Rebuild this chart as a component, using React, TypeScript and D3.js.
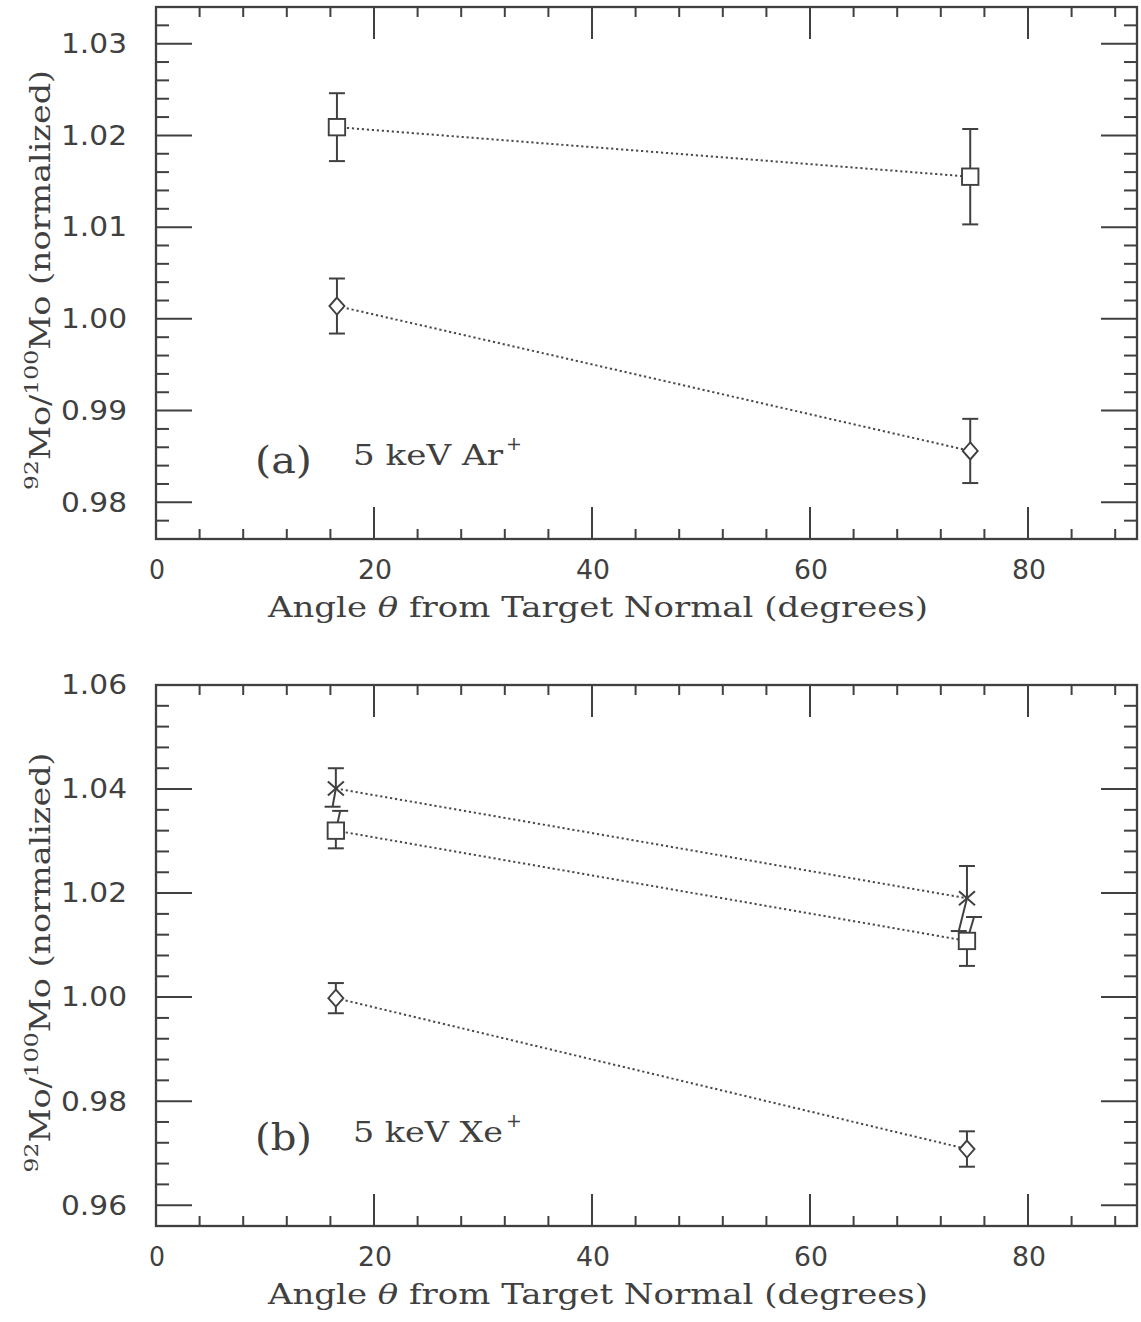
import * as d3 from 'd3'

// ---- data ----
const xTickValues = [0, 20, 40, 60, 80]

// panel (a): 5 keV Ar+
const anglesA = [16.6, 74.7]
const squareA = [1.0209, 1.0155]
const squareAErr = [0.0037, 0.0052]
const diamondA = [1.0014, 0.9856]
const diamondAErr = [0.003, 0.0035]
const yTicksA = [0.98, 0.99, 1.0, 1.01, 1.02, 1.03]

// panel (b): 5 keV Xe+
const anglesB = [16.5, 74.4]
const crossB = [1.0401, 1.019]
const crossBErrHi = [0.0039, 0.0062]
const crossBErrLo = [0.0035, 0.0063]
const crossBLoShift = [-0.3, -0.75] // lower bars were drawn skewed
const squareB = [1.032, 1.0108]
const squareBErrHi = [0.0038, 0.0046]
const squareBErrLo = [0.0034, 0.0048]
const squareBHiShift = [0.4, 0.65]
const diamondB = [0.9998, 0.9708]
const diamondBErr = [0.0029, 0.0034]
const yTicksB = [0.96, 0.98, 1.0, 1.02, 1.04, 1.06]

const W = 1141, H = 1322
const INK = '#404040'
const SANS = '"DejaVu Sans", sans-serif'
const SERIF = '"DejaVu Serif", serif'

type Series = {
  shape: 'square' | 'diamond' | 'cross'
  x: number[]
  y: number[]
  hi: number[]
  lo: number[]
  hiShift?: number[]
  loShift?: number[]
}

const seriesA: Series[] = [
  { shape: 'square', x: anglesA, y: squareA, hi: squareAErr, lo: squareAErr },
  { shape: 'diamond', x: anglesA, y: diamondA, hi: diamondAErr, lo: diamondAErr },
]
const seriesB: Series[] = [
  { shape: 'cross', x: anglesB, y: crossB, hi: crossBErrHi, lo: crossBErrLo, loShift: crossBLoShift },
  { shape: 'square', x: anglesB, y: squareB, hi: squareBErrHi, lo: squareBErrLo, hiShift: squareBHiShift },
  { shape: 'diamond', x: anglesB, y: diamondB, hi: diamondBErr, lo: diamondBErr },
]

const Marker = ({ shape, cx, cy }: { shape: string; cx: number; cy: number }) => {
  if (shape === 'square')
    return <rect x={cx - 8.2} y={cy - 8.2} width={16.4} height={16.4} fill='white' stroke={INK} strokeWidth={1.9} />
  if (shape === 'diamond')
    return <path d={`M${cx},${cy - 8.5}L${cx + 7.5},${cy}L${cx},${cy + 8.5}L${cx - 7.5},${cy}Z`} fill='white' stroke={INK} strokeWidth={1.9} />
  return (
    <g stroke={INK} strokeWidth={2}>
      <line x1={cx - 8} y1={cy - 7} x2={cx + 8} y2={cy + 7} />
      <line x1={cx - 8} y1={cy + 7} x2={cx + 8} y2={cy - 7} />
    </g>
  )
}

const Panel = ({ top, bottom, yDomain, yMajor, yMinorStep, series, tag, ion, tagDy }: {
  top: number; bottom: number; yDomain: [number, number]; yMajor: number[]; yMinorStep: number
  series: Series[]; tag: string; ion: string; tagDy: number
}) => {
  const x = d3.scaleLinear().domain([0, 90]).range([156, 1137])
  const y = d3.scaleLinear().domain(yDomain).range([bottom, top])
  const fmt = d3.format('.2f')

  const xMinor = d3.range(0, 90, 4).filter(v => v % 20 !== 0)
  const n = Math.round((yDomain[1] - yDomain[0]) / yMinorStep)
  const yMinor = d3.range(0, n + 1)
    .map(i => yDomain[0] + i * yMinorStep)
    .filter(v => !yMajor.some(m => Math.abs(m - v) < yMinorStep / 10))
    .filter(v => v > yDomain[0] + 1e-9 && v < yDomain[1] - 1e-9)

  const [x0, x1] = x.range()
  const line = d3.line<[number, number]>().x(d => x(d[0])).y(d => y(d[1]))
  const midY = (top + bottom) / 2

  return (
    <g>
      {/* frame */}
      <rect x={x0} y={top} width={x1 - x0} height={bottom - top} fill='none' stroke={INK} strokeWidth={2.3} />

      {/* ticks on all four sides, pointing inward */}
      <g stroke={INK} strokeWidth={2}>
        {xTickValues.map(v => (
          <g key={'xM' + v}>
            <line x1={x(v)} x2={x(v)} y1={bottom} y2={bottom - 32} />
            <line x1={x(v)} x2={x(v)} y1={top} y2={top + 32} />
          </g>
        ))}
        {xMinor.map(v => (
          <g key={'xm' + v}>
            <line x1={x(v)} x2={x(v)} y1={bottom} y2={bottom - 10} />
            <line x1={x(v)} x2={x(v)} y1={top} y2={top + 10} />
          </g>
        ))}
        {yMajor.map(v => (
          <g key={'yM' + v}>
            <line x1={x0} x2={x0 + 36} y1={y(v)} y2={y(v)} />
            <line x1={x1} x2={x1 - 36} y1={y(v)} y2={y(v)} />
          </g>
        ))}
        {yMinor.map(v => (
          <g key={'ym' + v}>
            <line x1={x0} x2={x0 + 13} y1={y(v)} y2={y(v)} />
            <line x1={x1} x2={x1 - 13} y1={y(v)} y2={y(v)} />
          </g>
        ))}
      </g>

      {/* tick labels */}
      <g fill={INK} fontFamily={SANS} fontSize={26}>
        {xTickValues.map(v => (
          <text key={'xl' + v} x={x(v) + 1} y={bottom + 40} textAnchor='middle'
            textLength={v === 0 ? 16 : 34} lengthAdjust='spacingAndGlyphs'>{v}</text>
        ))}
        {yMajor.map(v => (
          <text key={'yl' + v} x={61} y={y(v)} dy='0.36em'
            textLength={66} lengthAdjust='spacingAndGlyphs'>{fmt(v)}</text>
        ))}
      </g>

      {/* axis titles */}
      <text x={598} y={bottom + 78} textAnchor='middle' fill={INK} fontFamily={SERIF} fontSize={28}
        textLength={660} lengthAdjust='spacingAndGlyphs'>
        Angle <tspan fontStyle='italic'>θ</tspan> from Target Normal (degrees)
      </text>
      <text transform={`translate(50,${midY + 7}) rotate(-90)`} textAnchor='middle' fill={INK}
        fontFamily={SERIF} fontSize={27} textLength={420} lengthAdjust='spacingAndGlyphs'>
        <tspan fontSize={19} dy={-12}>92</tspan>
        <tspan dy={12}>Mo/</tspan>
        <tspan fontSize={19} dy={-12}>100</tspan>
        <tspan dy={12}>Mo (normalized)</tspan>
      </text>

      {/* panel tag */}
      <text x={255} y={bottom - tagDy} fill={INK} fontFamily={SERIF} fontSize={38}
        textLength={57} lengthAdjust='spacingAndGlyphs'>{tag}</text>
      <text x={353} y={bottom - tagDy - 8} fill={INK} fontFamily={SERIF} fontSize={27}>
        <tspan textLength={150} lengthAdjust='spacingAndGlyphs'>{ion}</tspan>
        <tspan fontSize={19} dy={-15} dx={3}>+</tspan>
      </text>

      {/* dotted connecting lines */}
      {series.map((s, i) => (
        <path key={'l' + i} d={line(s.x.map((a, j) => [a, s.y[j]] as [number, number])) || ''}
          fill='none' stroke='#4a4a4a' strokeWidth={2} strokeDasharray='2.2 2.8' />
      ))}

      {/* error bars */}
      <g stroke={INK} strokeWidth={2}>
        {series.map((s, i) => s.x.map((a, j) => {
          const hs = s.hiShift ? s.hiShift[j] : 0
          const ls = s.loShift ? s.loShift[j] : 0
          const yh = y(s.y[j] + s.hi[j]), yl = y(s.y[j] - s.lo[j])
          return (
            <g key={'e' + i + '-' + j}>
              <line x1={x(a)} y1={y(s.y[j])} x2={x(a + hs)} y2={yh} />
              <line x1={x(a + hs) - 8} x2={x(a + hs) + 8} y1={yh} y2={yh} />
              <line x1={x(a)} y1={y(s.y[j])} x2={x(a + ls)} y2={yl} />
              <line x1={x(a + ls) - 8} x2={x(a + ls) + 8} y1={yl} y2={yl} />
            </g>
          )
        }))}
      </g>

      {/* markers */}
      {series.map((s, i) => s.x.map((a, j) => (
        <Marker key={'m' + i + '-' + j} shape={s.shape} cx={x(a)} cy={y(s.y[j])} />
      )))}
    </g>
  )
}

export default function App() {
  return (
    <svg width={W} height={H} style={{ position: 'absolute', left: 0, top: 0, background: 'white' }}>
      <Panel top={7} bottom={539} yDomain={[0.976, 1.034]} yMajor={yTicksA} yMinorStep={0.002}
        series={seriesA} tag='(a)' ion='5 keV Ar' tagDy={66} />
      <Panel top={685} bottom={1226} yDomain={[0.956, 1.06]} yMajor={yTicksB} yMinorStep={0.004}
        series={seriesB} tag='(b)' ion='5 keV Xe' tagDy={76} />
    </svg>
  )
}
